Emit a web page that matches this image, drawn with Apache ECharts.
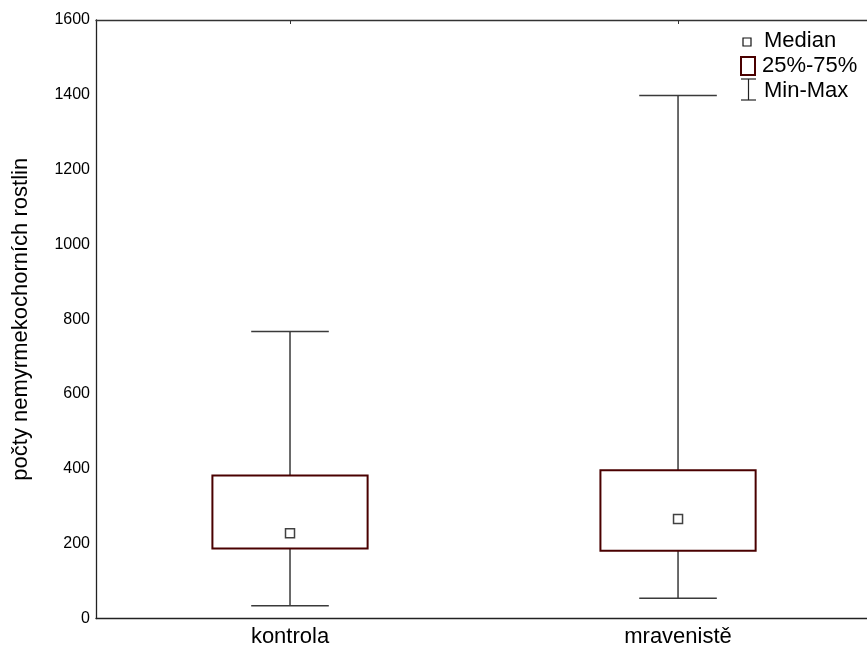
<!DOCTYPE html>
<html>
<head>
<meta charset="utf-8">
<script src="https://cdn.jsdelivr.net/npm/echarts@6/dist/echarts.min.js"></script>
<style>
html,body{margin:0;padding:0;background:#fff;}
#chart{width:867px;height:650px;}
</style>
</head>
<body>
<div id="chart"></div>
<script>
const categories = ['kontrola', 'mravenistě'];
const minVals = [34, 54];
const q1Vals = [187, 181];
const medianVals = [228, 266];
const q3Vals = [382, 396];
const maxVals = [767, 1398];
const yTicks = [0, 200, 400, 600, 800, 1000, 1200, 1400, 1600];
const yAxisTitle = 'počty nemyrmekochorních rostlin';
const legendLabels = ['Median', '25%-75%', 'Min-Max'];

const FONT = '"Liberation Sans", Arial, sans-serif';
const BOX_COLOR = '#4a0000';
const WHISKER_COLOR = '#3a3a3a';

const catIdx = categories.map((c, i) => i);
const boxData = categories.map((c, i) => [i, minVals[i], q1Vals[i], q3Vals[i], maxVals[i]]);
const medianData = categories.map((c, i) => [i, medianVals[i]]);
const catLabel = v => (Math.abs(v - Math.round(v)) < 1e-6 && categories[Math.round(v)] !== undefined) ? categories[Math.round(v)] : '';

const chart = echarts.init(document.getElementById('chart'), null, {renderer: 'canvas'});

const option = {
  animation: false,
  backgroundColor: '#ffffff',
  grid: {left: 96, top: 20, bottom: 31.5, right: 0, containLabel: false},
  xAxis: [{
    type: 'value',
    min: -0.5, max: 1.487, interval: 0.5,
    position: 'bottom',
    axisLine: {show: true, onZero: false, lineStyle: {color: '#222', width: 1.3}},
    axisTick: {show: false},
    axisLabel: {color: '#000', fontSize: 22, fontFamily: FONT, margin: 7,
      customValues: catIdx, formatter: catLabel},
    splitLine: {show: false}
  }, {
    type: 'value',
    min: -0.5, max: 1.487, interval: 0.5,
    position: 'top',
    axisLine: {show: true, onZero: false, lineStyle: {color: '#333', width: 1.3}},
    axisTick: {show: true, inside: true, length: 4, customValues: catIdx, lineStyle: {color: '#333', width: 1}},
    axisLabel: {show: false},
    splitLine: {show: false}
  }],
  yAxis: {
    type: 'value',
    min: 0, max: 1600, interval: 200,
    name: yAxisTitle,
    nameLocation: 'middle',
    nameRotate: 90,
    nameGap: 64,
    nameTextStyle: {color: '#000', fontSize: 22, fontFamily: FONT},
    axisLine: {show: true, onZero: false, lineStyle: {color: '#222', width: 1.3}},
    axisTick: {show: false},
    axisLabel: {color: '#000', fontSize: 16, fontFamily: FONT, margin: 6,
      formatter: v => yTicks.indexOf(v) >= 0 ? String(v) : ''},
    splitLine: {show: false}
  },
  series: [{
    type: 'custom',
    xAxisIndex: 0,
    data: boxData,
    renderItem: function (params, api) {
      const x = api.value(0);
      const pMin = api.coord([x, api.value(1)]);
      const pQ1 = api.coord([x, api.value(2)]);
      const pQ3 = api.coord([x, api.value(3)]);
      const pMax = api.coord([x, api.value(4)]);
      const band = api.size([1, 0])[0];
      const boxW = band * 0.4;
      const capW = band * 0.2;
      const cx = pMin[0];
      const ws = {stroke: WHISKER_COLOR, lineWidth: 1.5};
      return {
        type: 'group',
        children: [
          {type: 'line', shape: {x1: cx, y1: pMax[1], x2: cx, y2: pQ3[1]}, style: ws},
          {type: 'line', shape: {x1: cx, y1: pQ1[1], x2: cx, y2: pMin[1]}, style: ws},
          {type: 'line', shape: {x1: cx - capW / 2, y1: pMax[1], x2: cx + capW / 2, y2: pMax[1]}, style: ws},
          {type: 'line', shape: {x1: cx - capW / 2, y1: pMin[1], x2: cx + capW / 2, y2: pMin[1]}, style: ws},
          {type: 'rect', shape: {x: cx - boxW / 2, y: pQ3[1], width: boxW, height: pQ1[1] - pQ3[1]},
            style: {fill: '#fff', stroke: BOX_COLOR, lineWidth: 2}}
        ]
      };
    },
    z: 2
  }, {
    type: 'scatter',
    xAxisIndex: 0,
    data: medianData,
    symbol: 'rect',
    symbolSize: 9,
    itemStyle: {color: '#fff', borderColor: '#111', borderWidth: 1.5},
    z: 3
  }],
  graphic: [
    {type: 'rect', shape: {x: 743, y: 38, width: 8, height: 8}, style: {fill: '#fff', stroke: '#111', lineWidth: 1.2}},
    {type: 'text', left: 764, top: 30, style: {text: legendLabels[0], fill: '#000', fontSize: 22, fontFamily: FONT}},
    {type: 'rect', shape: {x: 741, y: 57, width: 14, height: 18}, style: {fill: '#fff', stroke: BOX_COLOR, lineWidth: 2}},
    {type: 'text', left: 762, top: 55, style: {text: legendLabels[1], fill: '#000', fontSize: 22, fontFamily: FONT}},
    {type: 'line', shape: {x1: 748.5, y1: 79, x2: 748.5, y2: 100}, style: {stroke: '#222', lineWidth: 1.2}},
    {type: 'line', shape: {x1: 741, y1: 79, x2: 756, y2: 79}, style: {stroke: '#222', lineWidth: 1.2}},
    {type: 'line', shape: {x1: 741, y1: 100, x2: 756, y2: 100}, style: {stroke: '#222', lineWidth: 1.2}},
    {type: 'text', left: 764, top: 80, style: {text: legendLabels[2], fill: '#000', fontSize: 22, fontFamily: FONT}}
  ]
};
chart.setOption(option);
</script>
</body>
</html>
